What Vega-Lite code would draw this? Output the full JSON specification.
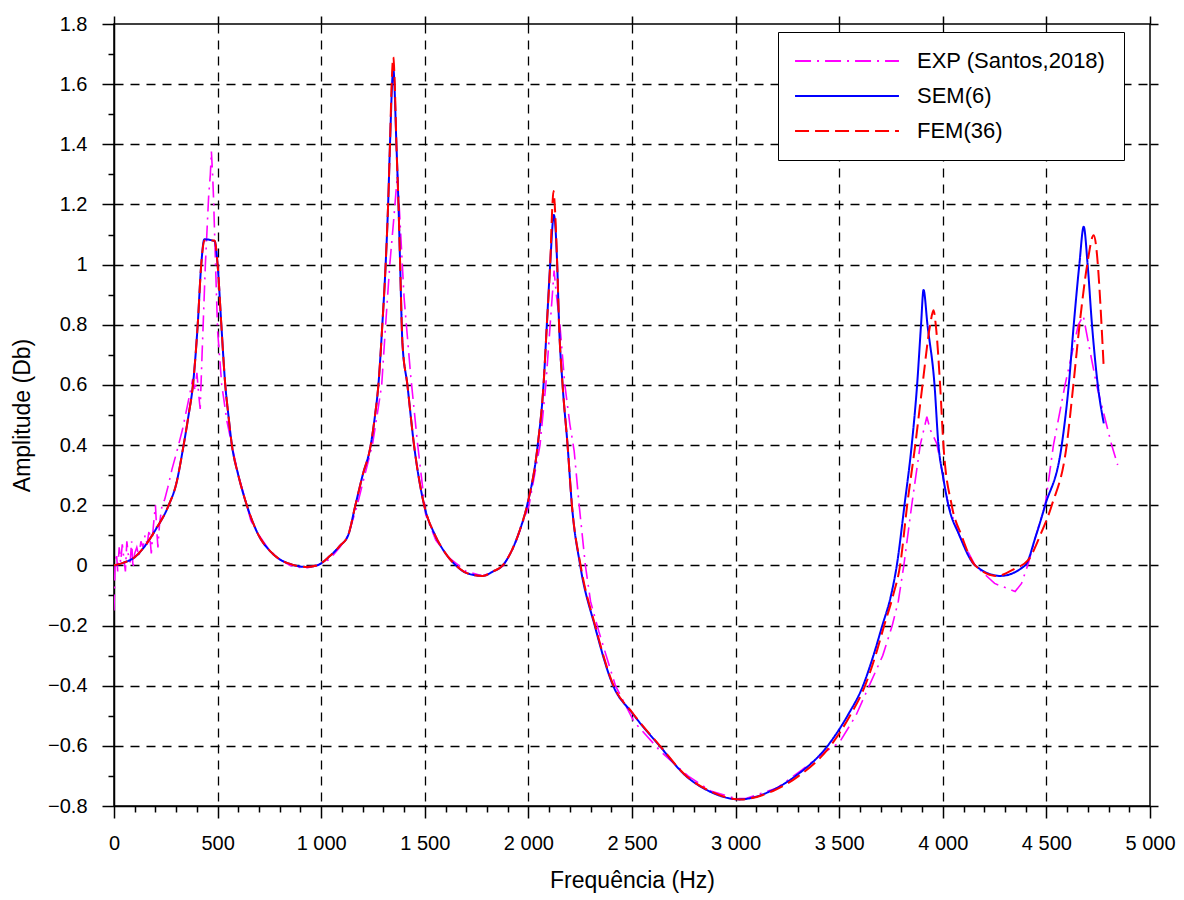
{
  "$schema": "https://vega.github.io/schema/vega-lite/v6.json",
  "width": 1036,
  "height": 782,
  "autosize": {"type": "none"},
  "padding": {"left": 114, "top": 24, "right": 34, "bottom": 94},
  "background": "white",
  "config": {"view": {"stroke": "black", "strokeWidth": 1.5}, "font": "Liberation Sans"},
  "datasets": {
    "c": [
      {"s":"EXP (Santos,2018)","f":0,"a":-0.15},{"s":"EXP (Santos,2018)","f":5,"a":0.0},{"s":"EXP (Santos,2018)","f":12,"a":0.04},{"s":"EXP (Santos,2018)","f":18,"a":-0.02},{"s":"EXP (Santos,2018)","f":25,"a":0.06},{"s":"EXP (Santos,2018)","f":32,"a":0.01},{"s":"EXP (Santos,2018)","f":40,"a":0.07},{"s":"EXP (Santos,2018)","f":48,"a":0.02},{"s":"EXP (Santos,2018)","f":55,"a":-0.02},{"s":"EXP (Santos,2018)","f":62,"a":0.08},{"s":"EXP (Santos,2018)","f":70,"a":0.03},{"s":"EXP (Santos,2018)","f":78,"a":0.01},{"s":"EXP (Santos,2018)","f":85,"a":0.08},{"s":"EXP (Santos,2018)","f":92,"a":-0.01},{"s":"EXP (Santos,2018)","f":100,"a":0.04},{"s":"EXP (Santos,2018)","f":110,"a":0.06},{"s":"EXP (Santos,2018)","f":120,"a":0.03},{"s":"EXP (Santos,2018)","f":130,"a":0.08},{"s":"EXP (Santos,2018)","f":140,"a":0.06},{"s":"EXP (Santos,2018)","f":150,"a":0.1},{"s":"EXP (Santos,2018)","f":160,"a":0.07},{"s":"EXP (Santos,2018)","f":170,"a":0.12},{"s":"EXP (Santos,2018)","f":180,"a":0.04},{"s":"EXP (Santos,2018)","f":190,"a":0.13},{"s":"EXP (Santos,2018)","f":200,"a":0.2},{"s":"EXP (Santos,2018)","f":206,"a":0.12},{"s":"EXP (Santos,2018)","f":212,"a":0.06},{"s":"EXP (Santos,2018)","f":220,"a":0.14},{"s":"EXP (Santos,2018)","f":232,"a":0.2},{"s":"EXP (Santos,2018)","f":245,"a":0.22},{"s":"EXP (Santos,2018)","f":260,"a":0.26},{"s":"EXP (Santos,2018)","f":280,"a":0.32},{"s":"EXP (Santos,2018)","f":300,"a":0.37},{"s":"EXP (Santos,2018)","f":330,"a":0.45},{"s":"EXP (Santos,2018)","f":360,"a":0.55},{"s":"EXP (Santos,2018)","f":380,"a":0.62},{"s":"EXP (Santos,2018)","f":392,"a":0.58},{"s":"EXP (Santos,2018)","f":400,"a":0.64},{"s":"EXP (Santos,2018)","f":410,"a":0.56},{"s":"EXP (Santos,2018)","f":416,"a":0.52},{"s":"EXP (Santos,2018)","f":425,"a":0.7},{"s":"EXP (Santos,2018)","f":441,"a":1.0},{"s":"EXP (Santos,2018)","f":457,"a":1.23},{"s":"EXP (Santos,2018)","f":465,"a":1.3},{"s":"EXP (Santos,2018)","f":470,"a":1.376},{"s":"EXP (Santos,2018)","f":476,"a":1.3},{"s":"EXP (Santos,2018)","f":481,"a":1.21},{"s":"EXP (Santos,2018)","f":490,"a":1.0},{"s":"EXP (Santos,2018)","f":500,"a":0.78},{"s":"EXP (Santos,2018)","f":520,"a":0.6},{"s":"EXP (Santos,2018)","f":545,"a":0.48},{"s":"EXP (Santos,2018)","f":575,"a":0.38},{"s":"EXP (Santos,2018)","f":600,"a":0.3},{"s":"EXP (Santos,2018)","f":625,"a":0.24},{"s":"EXP (Santos,2018)","f":660,"a":0.15},{"s":"EXP (Santos,2018)","f":700,"a":0.1},{"s":"EXP (Santos,2018)","f":750,"a":0.05},{"s":"EXP (Santos,2018)","f":800,"a":0.02},{"s":"EXP (Santos,2018)","f":850,"a":0.0},{"s":"EXP (Santos,2018)","f":920,"a":-0.01},{"s":"EXP (Santos,2018)","f":980,"a":0.0},{"s":"EXP (Santos,2018)","f":1040,"a":0.02},{"s":"EXP (Santos,2018)","f":1090,"a":0.06},{"s":"EXP (Santos,2018)","f":1130,"a":0.1},{"s":"EXP (Santos,2018)","f":1174,"a":0.2},{"s":"EXP (Santos,2018)","f":1210,"a":0.3},{"s":"EXP (Santos,2018)","f":1247,"a":0.4},{"s":"EXP (Santos,2018)","f":1270,"a":0.5},{"s":"EXP (Santos,2018)","f":1292,"a":0.6},{"s":"EXP (Santos,2018)","f":1311,"a":0.8},{"s":"EXP (Santos,2018)","f":1331,"a":1.0},{"s":"EXP (Santos,2018)","f":1350,"a":1.15},{"s":"EXP (Santos,2018)","f":1368,"a":1.3},{"s":"EXP (Santos,2018)","f":1380,"a":1.15},{"s":"EXP (Santos,2018)","f":1400,"a":0.89},{"s":"EXP (Santos,2018)","f":1432,"a":0.63},{"s":"EXP (Santos,2018)","f":1465,"a":0.405},{"s":"EXP (Santos,2018)","f":1505,"a":0.167},{"s":"EXP (Santos,2018)","f":1553,"a":0.084},{"s":"EXP (Santos,2018)","f":1618,"a":0.025},{"s":"EXP (Santos,2018)","f":1700,"a":-0.02},{"s":"EXP (Santos,2018)","f":1780,"a":-0.035},{"s":"EXP (Santos,2018)","f":1830,"a":-0.02},{"s":"EXP (Santos,2018)","f":1880,"a":0.0},{"s":"EXP (Santos,2018)","f":1930,"a":0.06},{"s":"EXP (Santos,2018)","f":2003,"a":0.2},{"s":"EXP (Santos,2018)","f":2056,"a":0.4},{"s":"EXP (Santos,2018)","f":2084,"a":0.6},{"s":"EXP (Santos,2018)","f":2105,"a":0.8},{"s":"EXP (Santos,2018)","f":2124,"a":0.98},{"s":"EXP (Santos,2018)","f":2135,"a":0.9},{"s":"EXP (Santos,2018)","f":2152,"a":0.8},{"s":"EXP (Santos,2018)","f":2176,"a":0.6},{"s":"EXP (Santos,2018)","f":2200,"a":0.47},{"s":"EXP (Santos,2018)","f":2221,"a":0.38},{"s":"EXP (Santos,2018)","f":2245,"a":0.2},{"s":"EXP (Santos,2018)","f":2275,"a":0.0},{"s":"EXP (Santos,2018)","f":2300,"a":-0.12},{"s":"EXP (Santos,2018)","f":2340,"a":-0.22},{"s":"EXP (Santos,2018)","f":2420,"a":-0.4},{"s":"EXP (Santos,2018)","f":2510,"a":-0.52},{"s":"EXP (Santos,2018)","f":2640,"a":-0.62},{"s":"EXP (Santos,2018)","f":2770,"a":-0.7},{"s":"EXP (Santos,2018)","f":2880,"a":-0.75},{"s":"EXP (Santos,2018)","f":3000,"a":-0.775},{"s":"EXP (Santos,2018)","f":3050,"a":-0.775},{"s":"EXP (Santos,2018)","f":3200,"a":-0.74},{"s":"EXP (Santos,2018)","f":3320,"a":-0.68},{"s":"EXP (Santos,2018)","f":3420,"a":-0.625},{"s":"EXP (Santos,2018)","f":3500,"a":-0.59},{"s":"EXP (Santos,2018)","f":3580,"a":-0.5},{"s":"EXP (Santos,2018)","f":3645,"a":-0.4},{"s":"EXP (Santos,2018)","f":3710,"a":-0.3},{"s":"EXP (Santos,2018)","f":3756,"a":-0.2},{"s":"EXP (Santos,2018)","f":3785,"a":-0.12},{"s":"EXP (Santos,2018)","f":3812,"a":0.0},{"s":"EXP (Santos,2018)","f":3850,"a":0.2},{"s":"EXP (Santos,2018)","f":3891,"a":0.4},{"s":"EXP (Santos,2018)","f":3923,"a":0.494},{"s":"EXP (Santos,2018)","f":3940,"a":0.45},{"s":"EXP (Santos,2018)","f":3971,"a":0.405},{"s":"EXP (Santos,2018)","f":4000,"a":0.3},{"s":"EXP (Santos,2018)","f":4027,"a":0.2},{"s":"EXP (Santos,2018)","f":4080,"a":0.1},{"s":"EXP (Santos,2018)","f":4156,"a":0.0},{"s":"EXP (Santos,2018)","f":4250,"a":-0.06},{"s":"EXP (Santos,2018)","f":4349,"a":-0.087},{"s":"EXP (Santos,2018)","f":4380,"a":-0.06},{"s":"EXP (Santos,2018)","f":4413,"a":0.007},{"s":"EXP (Santos,2018)","f":4450,"a":0.1},{"s":"EXP (Santos,2018)","f":4494,"a":0.2},{"s":"EXP (Santos,2018)","f":4534,"a":0.4},{"s":"EXP (Santos,2018)","f":4590,"a":0.6},{"s":"EXP (Santos,2018)","f":4654,"a":0.8},{"s":"EXP (Santos,2018)","f":4678,"a":0.83},{"s":"EXP (Santos,2018)","f":4700,"a":0.75},{"s":"EXP (Santos,2018)","f":4742,"a":0.6},{"s":"EXP (Santos,2018)","f":4815,"a":0.4},{"s":"EXP (Santos,2018)","f":4844,"a":0.334},

      {"s":"SEM(6)","f":0,"a":0},{"s":"SEM(6)","f":50,"a":0.01},{"s":"SEM(6)","f":100,"a":0.027},{"s":"SEM(6)","f":150,"a":0.065},{"s":"SEM(6)","f":200,"a":0.118},{"s":"SEM(6)","f":264,"a":0.2},{"s":"SEM(6)","f":300,"a":0.27},{"s":"SEM(6)","f":336,"a":0.4},{"s":"SEM(6)","f":360,"a":0.5},{"s":"SEM(6)","f":381,"a":0.6},{"s":"SEM(6)","f":404,"a":0.8},{"s":"SEM(6)","f":421,"a":1.0},{"s":"SEM(6)","f":436,"a":1.084},{"s":"SEM(6)","f":486,"a":1.078},{"s":"SEM(6)","f":500,"a":1.0},{"s":"SEM(6)","f":518,"a":0.8},{"s":"SEM(6)","f":537,"a":0.6},{"s":"SEM(6)","f":552,"a":0.5},{"s":"SEM(6)","f":569,"a":0.4},{"s":"SEM(6)","f":600,"a":0.3},{"s":"SEM(6)","f":641,"a":0.2},{"s":"SEM(6)","f":698,"a":0.1},{"s":"SEM(6)","f":750,"a":0.05},{"s":"SEM(6)","f":800,"a":0.02},{"s":"SEM(6)","f":850,"a":0.005},{"s":"SEM(6)","f":923,"a":-0.005},{"s":"SEM(6)","f":980,"a":0.0},{"s":"SEM(6)","f":1040,"a":0.03},{"s":"SEM(6)","f":1090,"a":0.065},{"s":"SEM(6)","f":1130,"a":0.1},{"s":"SEM(6)","f":1165,"a":0.2},{"s":"SEM(6)","f":1200,"a":0.3},{"s":"SEM(6)","f":1239,"a":0.4},{"s":"SEM(6)","f":1260,"a":0.5},{"s":"SEM(6)","f":1276,"a":0.6},{"s":"SEM(6)","f":1295,"a":0.8},{"s":"SEM(6)","f":1311,"a":1.0},{"s":"SEM(6)","f":1323,"a":1.2},{"s":"SEM(6)","f":1332,"a":1.4},{"s":"SEM(6)","f":1348,"a":1.65},{"s":"SEM(6)","f":1363,"a":1.4},{"s":"SEM(6)","f":1373,"a":1.2},{"s":"SEM(6)","f":1381,"a":1.0},{"s":"SEM(6)","f":1392,"a":0.74},{"s":"SEM(6)","f":1416,"a":0.6},{"s":"SEM(6)","f":1448,"a":0.4},{"s":"SEM(6)","f":1497,"a":0.2},{"s":"SEM(6)","f":1550,"a":0.1},{"s":"SEM(6)","f":1600,"a":0.04},{"s":"SEM(6)","f":1650,"a":0.0},{"s":"SEM(6)","f":1700,"a":-0.025},{"s":"SEM(6)","f":1779,"a":-0.035},{"s":"SEM(6)","f":1830,"a":-0.02},{"s":"SEM(6)","f":1876,"a":0.0},{"s":"SEM(6)","f":1920,"a":0.05},{"s":"SEM(6)","f":1960,"a":0.12},{"s":"SEM(6)","f":1994,"a":0.2},{"s":"SEM(6)","f":2045,"a":0.4},{"s":"SEM(6)","f":2073,"a":0.6},{"s":"SEM(6)","f":2089,"a":0.8},{"s":"SEM(6)","f":2105,"a":1.0},{"s":"SEM(6)","f":2123,"a":1.165},{"s":"SEM(6)","f":2139,"a":1.0},{"s":"SEM(6)","f":2148,"a":0.8},{"s":"SEM(6)","f":2165,"a":0.6},{"s":"SEM(6)","f":2189,"a":0.4},{"s":"SEM(6)","f":2210,"a":0.2},{"s":"SEM(6)","f":2250,"a":0.0},{"s":"SEM(6)","f":2320,"a":-0.2},{"s":"SEM(6)","f":2409,"a":-0.4},{"s":"SEM(6)","f":2500,"a":-0.49},{"s":"SEM(6)","f":2633,"a":-0.6},{"s":"SEM(6)","f":2760,"a":-0.7},{"s":"SEM(6)","f":2870,"a":-0.75},{"s":"SEM(6)","f":3019,"a":-0.778},{"s":"SEM(6)","f":3170,"a":-0.75},{"s":"SEM(6)","f":3290,"a":-0.7},{"s":"SEM(6)","f":3444,"a":-0.6},{"s":"SEM(6)","f":3540,"a":-0.5},{"s":"SEM(6)","f":3615,"a":-0.4},{"s":"SEM(6)","f":3665,"a":-0.3},{"s":"SEM(6)","f":3708,"a":-0.2},{"s":"SEM(6)","f":3750,"a":-0.1},{"s":"SEM(6)","f":3778,"a":0.0},{"s":"SEM(6)","f":3815,"a":0.2},{"s":"SEM(6)","f":3850,"a":0.4},{"s":"SEM(6)","f":3876,"a":0.6},{"s":"SEM(6)","f":3895,"a":0.8},{"s":"SEM(6)","f":3907,"a":0.916},{"s":"SEM(6)","f":3926,"a":0.8},{"s":"SEM(6)","f":3960,"a":0.6},{"s":"SEM(6)","f":3979,"a":0.4},{"s":"SEM(6)","f":4000,"a":0.3},{"s":"SEM(6)","f":4027,"a":0.2},{"s":"SEM(6)","f":4080,"a":0.1},{"s":"SEM(6)","f":4156,"a":0.0},{"s":"SEM(6)","f":4277,"a":-0.035},{"s":"SEM(6)","f":4397,"a":0.0},{"s":"SEM(6)","f":4450,"a":0.1},{"s":"SEM(6)","f":4494,"a":0.2},{"s":"SEM(6)","f":4574,"a":0.4},{"s":"SEM(6)","f":4608,"a":0.6},{"s":"SEM(6)","f":4632,"a":0.8},{"s":"SEM(6)","f":4659,"a":1.0},{"s":"SEM(6)","f":4680,"a":1.126},{"s":"SEM(6)","f":4699,"a":1.0},{"s":"SEM(6)","f":4720,"a":0.8},{"s":"SEM(6)","f":4748,"a":0.6},{"s":"SEM(6)","f":4777,"a":0.472},

      {"s":"FEM(36)","f":0,"a":0},{"s":"FEM(36)","f":50,"a":0.01},{"s":"FEM(36)","f":100,"a":0.027},{"s":"FEM(36)","f":150,"a":0.065},{"s":"FEM(36)","f":200,"a":0.118},{"s":"FEM(36)","f":264,"a":0.2},{"s":"FEM(36)","f":300,"a":0.27},{"s":"FEM(36)","f":336,"a":0.4},{"s":"FEM(36)","f":360,"a":0.5},{"s":"FEM(36)","f":381,"a":0.6},{"s":"FEM(36)","f":404,"a":0.8},{"s":"FEM(36)","f":421,"a":1.0},{"s":"FEM(36)","f":436,"a":1.08},{"s":"FEM(36)","f":486,"a":1.08},{"s":"FEM(36)","f":500,"a":1.0},{"s":"FEM(36)","f":518,"a":0.8},{"s":"FEM(36)","f":537,"a":0.6},{"s":"FEM(36)","f":552,"a":0.5},{"s":"FEM(36)","f":569,"a":0.4},{"s":"FEM(36)","f":600,"a":0.3},{"s":"FEM(36)","f":641,"a":0.2},{"s":"FEM(36)","f":698,"a":0.1},{"s":"FEM(36)","f":750,"a":0.05},{"s":"FEM(36)","f":800,"a":0.02},{"s":"FEM(36)","f":850,"a":0.005},{"s":"FEM(36)","f":923,"a":-0.005},{"s":"FEM(36)","f":980,"a":0.0},{"s":"FEM(36)","f":1040,"a":0.03},{"s":"FEM(36)","f":1090,"a":0.065},{"s":"FEM(36)","f":1130,"a":0.1},{"s":"FEM(36)","f":1165,"a":0.2},{"s":"FEM(36)","f":1200,"a":0.3},{"s":"FEM(36)","f":1239,"a":0.4},{"s":"FEM(36)","f":1260,"a":0.5},{"s":"FEM(36)","f":1276,"a":0.6},{"s":"FEM(36)","f":1295,"a":0.8},{"s":"FEM(36)","f":1311,"a":1.0},{"s":"FEM(36)","f":1323,"a":1.2},{"s":"FEM(36)","f":1332,"a":1.4},{"s":"FEM(36)","f":1340,"a":1.6},{"s":"FEM(36)","f":1348,"a":1.69},{"s":"FEM(36)","f":1355,"a":1.6},{"s":"FEM(36)","f":1363,"a":1.4},{"s":"FEM(36)","f":1373,"a":1.2},{"s":"FEM(36)","f":1381,"a":1.0},{"s":"FEM(36)","f":1392,"a":0.74},{"s":"FEM(36)","f":1416,"a":0.6},{"s":"FEM(36)","f":1448,"a":0.4},{"s":"FEM(36)","f":1497,"a":0.2},{"s":"FEM(36)","f":1550,"a":0.1},{"s":"FEM(36)","f":1600,"a":0.04},{"s":"FEM(36)","f":1650,"a":0.0},{"s":"FEM(36)","f":1700,"a":-0.025},{"s":"FEM(36)","f":1779,"a":-0.035},{"s":"FEM(36)","f":1830,"a":-0.02},{"s":"FEM(36)","f":1876,"a":0.0},{"s":"FEM(36)","f":1920,"a":0.05},{"s":"FEM(36)","f":1960,"a":0.12},{"s":"FEM(36)","f":1994,"a":0.2},{"s":"FEM(36)","f":2045,"a":0.4},{"s":"FEM(36)","f":2073,"a":0.6},{"s":"FEM(36)","f":2089,"a":0.8},{"s":"FEM(36)","f":2105,"a":1.0},{"s":"FEM(36)","f":2116,"a":1.2},{"s":"FEM(36)","f":2121,"a":1.245},{"s":"FEM(36)","f":2127,"a":1.2},{"s":"FEM(36)","f":2139,"a":1.0},{"s":"FEM(36)","f":2148,"a":0.8},{"s":"FEM(36)","f":2165,"a":0.6},{"s":"FEM(36)","f":2189,"a":0.4},{"s":"FEM(36)","f":2210,"a":0.2},{"s":"FEM(36)","f":2252,"a":0.0},{"s":"FEM(36)","f":2322,"a":-0.2},{"s":"FEM(36)","f":2411,"a":-0.4},{"s":"FEM(36)","f":2502,"a":-0.49},{"s":"FEM(36)","f":2635,"a":-0.6},{"s":"FEM(36)","f":2762,"a":-0.7},{"s":"FEM(36)","f":2875,"a":-0.75},{"s":"FEM(36)","f":3025,"a":-0.778},{"s":"FEM(36)","f":3180,"a":-0.75},{"s":"FEM(36)","f":3305,"a":-0.7},{"s":"FEM(36)","f":3458,"a":-0.6},{"s":"FEM(36)","f":3552,"a":-0.5},{"s":"FEM(36)","f":3625,"a":-0.4},{"s":"FEM(36)","f":3675,"a":-0.3},{"s":"FEM(36)","f":3717,"a":-0.2},{"s":"FEM(36)","f":3760,"a":-0.1},{"s":"FEM(36)","f":3794,"a":0.0},{"s":"FEM(36)","f":3828,"a":0.2},{"s":"FEM(36)","f":3867,"a":0.4},{"s":"FEM(36)","f":3902,"a":0.6},{"s":"FEM(36)","f":3939,"a":0.8},{"s":"FEM(36)","f":3955,"a":0.848},{"s":"FEM(36)","f":3966,"a":0.8},{"s":"FEM(36)","f":3987,"a":0.6},{"s":"FEM(36)","f":4003,"a":0.4},{"s":"FEM(36)","f":4043,"a":0.2},{"s":"FEM(36)","f":4090,"a":0.1},{"s":"FEM(36)","f":4156,"a":0.0},{"s":"FEM(36)","f":4260,"a":-0.035},{"s":"FEM(36)","f":4350,"a":-0.01},{"s":"FEM(36)","f":4413,"a":0.018},{"s":"FEM(36)","f":4470,"a":0.1},{"s":"FEM(36)","f":4526,"a":0.2},{"s":"FEM(36)","f":4598,"a":0.4},{"s":"FEM(36)","f":4630,"a":0.6},{"s":"FEM(36)","f":4660,"a":0.8},{"s":"FEM(36)","f":4697,"a":1.0},{"s":"FEM(36)","f":4728,"a":1.098},{"s":"FEM(36)","f":4777,"a":0.653}
    ]
  },
  "data": {"name": "c"},
  "layer": [
    {
      "encoding": {
        "x": {
          "field": "f", "type": "quantitative",
          "scale": {"domain": [0, 5000], "nice": false, "zero": false},
          "axis": {
            "orient": "bottom",
            "values": [0,100,200,300,400,500,600,700,800,900,1000,1100,1200,1300,1400,1500,1600,1700,1800,1900,2000,2100,2200,2300,2400,2500,2600,2700,2800,2900,3000,3100,3200,3300,3400,3500,3600,3700,3800,3900,4000,4100,4200,4300,4400,4500,4600,4700,4800,4900,5000],
            "labelExpr": "datum.value % 500 === 0 ? replace(format(datum.value, ','), ',', ' ') : ''",
            "tickSize": {"condition": {"test": "datum.value % 500 === 0", "value": 12}, "value": 6},
            "grid": true,
            "gridOpacity": {"condition": {"test": "datum.value % 500 === 0 && datum.value > 0 && datum.value < 5000", "value": 1}, "value": 0},
            "gridColor": "black", "gridDash": [9, 7], "gridWidth": 1.3,
            "domainColor": "black", "domainWidth": 1.5,
            "tickColor": "black", "tickWidth": 1.5,
            "labelFontSize": 20, "labelColor": "black", "labelFont": "Liberation Sans",
            "labelPadding": 15, "labelFlush": false, "labelOverlap": false,
            "title": "Frequência (Hz)", "titleFontSize": 23, "titleFontWeight": "normal",
            "titleColor": "black", "titleFont": "Liberation Sans", "titlePadding": 16
          }
        },
        "y": {
          "field": "a", "type": "quantitative",
          "scale": {"domain": [-0.8, 1.8], "nice": false, "zero": false},
          "axis": {
            "orient": "left",
            "values": [-0.8,-0.7,-0.6,-0.5,-0.4,-0.3,-0.2,-0.1,0,0.1,0.2,0.3,0.4,0.5,0.6,0.7,0.8,0.9,1,1.1,1.2,1.3,1.4,1.5,1.6,1.7,1.8],
            "labelExpr": "abs(datum.value*5 - round(datum.value*5)) < 0.001 ? format(datum.value, '.2~f') : ''",
            "tickSize": {"condition": {"test": "abs(datum.value*5 - round(datum.value*5)) < 0.001", "value": 12}, "value": 6},
            "grid": true,
            "gridOpacity": {"condition": {"test": "abs(datum.value*5 - round(datum.value*5)) < 0.001 && datum.value > -0.75 && datum.value < 1.75", "value": 1}, "value": 0},
            "gridColor": "black", "gridDash": [9, 7], "gridWidth": 1.3,
            "domainColor": "black", "domainWidth": 1.5,
            "tickColor": "black", "tickWidth": 1.5,
            "labelFontSize": 20, "labelColor": "black", "labelFont": "Liberation Sans",
            "labelPadding": 15, "labelFlush": false, "labelOverlap": false,
            "title": "Amplitude (Db)", "titleFontSize": 23, "titleFontWeight": "normal",
            "titleColor": "black", "titleFont": "Liberation Sans", "titlePadding": 13
          }
        }
      },
      "layer": [
        {
          "transform": [{"filter": "datum.s === 'EXP (Santos,2018)'"}],
          "mark": {"type": "line", "strokeWidth": 1.6, "clip": true},
          "encoding": {
            "color": {
              "field": "s", "type": "nominal",
              "scale": {"domain": ["EXP (Santos,2018)", "SEM(6)", "FEM(36)"], "range": ["#ff00ff", "#0000ff", "#ff0000"]},
              "legend": {
                "title": null, "orient": "none", "legendX": 664, "legendY": 8,
                "symbolType": "M-6,0L6,0", "symbolSize": 300, "symbolStrokeWidth": 2,
                "symbolFillColor": "transparent",
                "symbolOffset": 40,
                "labelFontSize": 22, "labelFont": "Liberation Sans", "labelColor": "black",
                "labelOffset": 59, "labelLimit": 500, "padding": 18, "fillColor": "white", "strokeColor": "black",
                "rowPadding": 13
              }
            },
            "strokeDash": {
              "field": "s", "type": "nominal",
              "scale": {"domain": ["EXP (Santos,2018)", "SEM(6)", "FEM(36)"], "range": [[16, 6, 2, 6], [1, 0], [14, 6]]}
            }
          }
        },
        {
          "transform": [{"filter": "datum.s === 'SEM(6)'"}],
          "mark": {"type": "line", "strokeWidth": 2, "clip": true, "interpolate": "monotone"},
          "encoding": {
            "color": {"field": "s", "type": "nominal"},
            "strokeDash": {"field": "s", "type": "nominal"}
          }
        },
        {
          "transform": [{"filter": "datum.s === 'FEM(36)'"}],
          "mark": {"type": "line", "strokeWidth": 2, "clip": true, "interpolate": "monotone"},
          "encoding": {
            "color": {"field": "s", "type": "nominal"},
            "strokeDash": {"field": "s", "type": "nominal"}
          }
        }
      ]
    },
    {
      "mark": {"type": "point", "opacity": 0},
      "encoding": {
        "x": {
          "field": "f", "type": "quantitative",
          "axis": {
            "orient": "top", "labels": false, "title": null, "grid": false, "domain": false,
            "values": [0,500,1000,1500,2000,2500,3000,3500,4000,4500,5000],
            "tickSize": 8, "tickColor": "black", "tickWidth": 1.5
          }
        },
        "y": {
          "field": "a", "type": "quantitative",
          "axis": {
            "orient": "right", "labels": false, "title": null, "grid": false, "domain": false,
            "values": [-0.8,-0.6,-0.4,-0.2,0,0.2,0.4,0.6,0.8,1,1.2,1.4,1.6,1.8],
            "tickSize": 8, "tickColor": "black", "tickWidth": 1.5
          }
        }
      }
    }
  ],
  "resolve": {"axis": {"x": "independent", "y": "independent"}}
}
